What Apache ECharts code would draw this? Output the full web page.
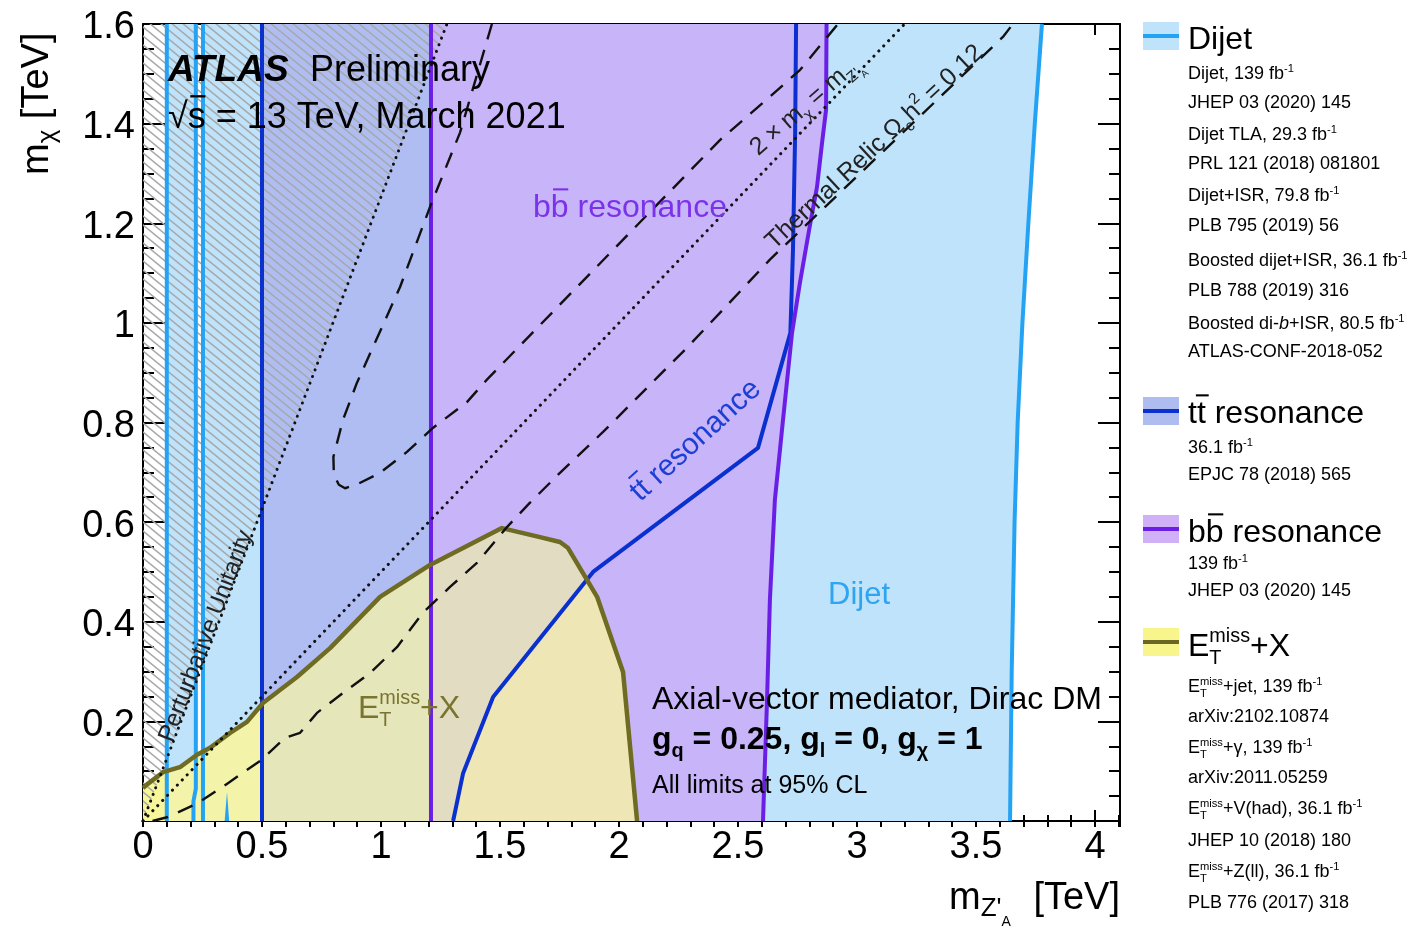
<!DOCTYPE html>
<html><head><meta charset="utf-8">
<script src="https://cdn.jsdelivr.net/npm/echarts@6/dist/echarts.min.js"></script>
<style>html,body{margin:0;padding:0;background:#fff}#c{width:1416px;height:929px}</style>
</head><body><div id="c"></div>
<script>
// ================= DATA (TeV) =================
const xMin = 0, xMax = 4.105, yMin = 0, yMax = 1.6;
const xMajor = 0.5, xMinor = 0.1, yMajor = 0.2;

// Dijet exclusion
const dijetBandA = [[0.1,0],[0.1,1.6],[0.222,1.6],[0.222,0.065],[0.212,0.04],[0.212,0]];
const dijetLineA = [[0.1,0],[0.1,1.6]];
const dijetLineB = [[0.212,0],[0.212,0.04],[0.222,0.065],[0.222,1.6]];
const dijetLeftC = 0.252;
const dijetSpike = [[0.343,0],[0.353,0.058],[0.362,0]];
const dijetRight = [[3.643,0],[3.650,0.3],[3.662,0.6],[3.675,0.8],[3.695,1.0],[3.72,1.2],[3.747,1.4],[3.777,1.6]];
// ttbar resonance
const ttLeftX = 0.5;
const ttCurve = [[1.303,0],[1.345,0.096],[1.471,0.249],[1.891,0.5],[2.584,0.749],[2.72,0.98],[2.731,1.147],[2.740,1.38],[2.744,1.6]];
// bbbar resonance
const bbLeftX = 1.21;
const bbCurve = [[2.605,0],[2.622,0.243],[2.634,0.444],[2.655,0.645],[2.689,0.805],[2.727,0.98],[2.76,1.08],[2.80,1.19],[2.832,1.273],[2.853,1.361],[2.870,1.428],[2.872,1.6]];
// ETmiss + X
const etCurve = [[0,0.066],[0.013,0.072],[0.084,0.098],[0.155,0.108],[0.227,0.133],[0.282,0.147],[0.366,0.177],[0.437,0.199],[0.504,0.237],[0.647,0.289],[0.786,0.347],[0.996,0.450],[1.206,0.514],[1.508,0.588],[1.668,0.570],[1.752,0.560],[1.786,0.548],[1.908,0.450],[2.017,0.299],[2.076,0]];
// reference lines
const unitarityLine = [[0,0],[1.277,1.6]];
const kinematicLine = [[0,0],[3.2,1.6]];
const relicA = [[1.466,1.6],[1.332,1.382],[1.206,1.233],[1.080,1.072],[0.899,0.880],[0.840,0.805],[0.800,0.731],[0.802,0.695],[0.823,0.675],[0.849,0.668],[0.900,0.676],[0.996,0.699],[1.109,0.741],[1.218,0.789],[1.361,0.841],[1.445,0.886],[2.424,1.367],[2.634,1.454],[2.761,1.508],[2.920,1.6]];
const relicB = [[0.04,0],[0.105,0.008],[0.231,0.036],[0.357,0.076],[0.496,0.122],[0.597,0.167],[0.660,0.177],[0.731,0.217],[0.840,0.257],[0.954,0.297],[1.067,0.349],[1.176,0.418],[1.290,0.470],[1.403,0.518],[1.529,0.590],[1.626,0.639],[1.752,0.699],[1.933,0.781],[2.160,0.890],[2.277,0.946],[2.424,1.020],[2.634,1.127],[3.613,1.574],[3.655,1.6]];

// legend texts
const legDijet = ['Dijet, 139 fb^{-1}','JHEP 03 (2020) 145','Dijet TLA, 29.3 fb^{-1}','PRL 121 (2018) 081801','Dijet+ISR, 79.8 fb^{-1}','PLB 795 (2019) 56','Boosted dijet+ISR, 36.1 fb^{-1}','PLB 788 (2019) 316','Boosted di-*{b}+ISR, 80.5 fb^{-1}','ATLAS-CONF-2018-052'];
const legTT = ['36.1 fb^{-1}','EPJC 78 (2018) 565'];
const legBB = ['139 fb^{-1}','JHEP 03 (2020) 145'];
const legET = ['E@{T|miss}+jet, 139 fb^{-1}','arXiv:2102.10874','E@{T|miss}+γ, 139 fb^{-1}','arXiv:2011.05259','E@{T|miss}+V(had), 36.1 fb^{-1}','JHEP 10 (2018) 180','E@{T|miss}+Z(ll), 36.1 fb^{-1}','PLB 776 (2017) 318'];

// ================= STYLE =================
const FONT = "'Liberation Sans', Arial, Helvetica, sans-serif";
const C = {
  dijetFill:'#bee3fa', dijetLine:'#24a3f4',
  ttFill:'#afbdf2', ttLine:'#0a30d0',
  bbFill:'#c8b4f8', bbLine:'#6b1ee5',
  y0:'#f8f69a', y1:'#f3f4a9', y2:'#e5e6ba', y3:'#efe6b6', y4:'#e2dcc3',
  etLine:'#6f6b22', hatch:'#a8a8a8', ink:'#111'
};

// ================= GEOMETRY HELPERS =================
function clipPoly(subject, clip) {
  let area = 0;
  for (let i = 0; i < clip.length; i++) { const a = clip[i], b = clip[(i+1)%clip.length]; area += a[0]*b[1]-b[0]*a[1]; }
  if (area < 0) clip = clip.slice().reverse();
  let out = subject;
  for (let i = 0; i < clip.length; i++) {
    const a = clip[i], b = clip[(i+1)%clip.length];
    const inside = p => (b[0]-a[0])*(p[1]-a[1]) - (b[1]-a[1])*(p[0]-a[0]) >= 0;
    const inter = (P, Q) => {
      const dx = Q[0]-P[0], dy = Q[1]-P[1];
      const ex = b[0]-a[0], ey = b[1]-a[1];
      const t = (ex*(a[1]-P[1]) - ey*(a[0]-P[0])) / (ex*dy - ey*dx);
      return [P[0]+t*dx, P[1]+t*dy];
    };
    const inp = out; out = [];
    for (let j = 0; j < inp.length; j++) {
      const P = inp[j], Q = inp[(j+1)%inp.length];
      const pi = inside(P), qi = inside(Q);
      if (pi) out.push(P);
      if (pi !== qi) out.push(inter(P, Q));
    }
    if (!out.length) break;
  }
  return out;
}
const rightOf = x0 => [[x0,-1],[10,-1],[10,10],[x0,10]];

const dijetBandB = [[dijetLeftC,0],[dijetLeftC,yMax]].concat(dijetRight.slice().reverse());
const ttPoly = [[ttLeftX,0],[ttLeftX,yMax]].concat(ttCurve.slice().reverse());
const bbPoly = [[bbLeftX,0],[bbLeftX,yMax]].concat(bbCurve.slice().reverse());
const etPoly = [[0,0]].concat(etCurve);
const belowTT = ttCurve.slice(0,5).concat([[ttCurve[4][0],0]]);
const hatchPoly = [unitarityLine[0], unitarityLine[1], [0, yMax]];

// hatch pattern
const pc = document.createElement('canvas'); const PW = 11, PH = 9;
pc.width = PW; pc.height = PH;
(function(){ const g = pc.getContext('2d'); g.strokeStyle = C.hatch; g.lineWidth = 1.5; g.beginPath();
  for (const n of [-1,0,1]) { g.moveTo(n*PW - PW, -PH); g.lineTo(n*PW + 2*PW, 2*PH); }
  g.stroke(); })();

const fillLayers = [
  {pts: dijetBandA, c: C.dijetFill},
  {pts: dijetBandB, c: C.dijetFill},
  {pts: ttPoly, c: C.ttFill},
  {pts: bbPoly, c: C.bbFill},
  {pts: etPoly, c: C.y0},
  {pts: clipPoly(etPoly, rightOf(dijetLineA[0][0])), c: C.y1},
  {pts: clipPoly(etPoly, rightOf(ttLeftX)), c: C.y2},
  {pts: clipPoly(etPoly, rightOf(bbLeftX)), c: C.y4},
  {pts: clipPoly(etPoly, belowTT), c: C.y3},
  {pts: dijetSpike, c: C.dijetLine},
  {pts: hatchPoly, c: {image: pc, repeat: 'repeat'}}
];

// ================= TEXT HELPERS =================
const mc = document.createElement('canvas').getContext('2d');
function measure(t, s, w, it) { mc.font = (it?'italic ':'normal ') + (w||'normal') + ' ' + s + 'px ' + FONT; return mc.measureText(t).width; }
function parse(str) {
  const parts = []; let buf = '';
  for (let i = 0; i < str.length; i++) {
    const ch = str[i];
    if ('^_@~*'.includes(ch) && str[i+1] === '{') {
      if (buf) { parts.push({t: buf}); buf = ''; }
      const end = str.indexOf('}', i+2);
      const inner = str.slice(i+2, end);
      if (ch === '^') parts.push({t: inner, k: 'sup'});
      else if (ch === '_') parts.push({t: inner, k: 'sub'});
      else if (ch === '@') { const ab = inner.split('|'); parts.push({t: ab[0], k: 'sub'}); parts.push({t: ab[1], k: 'sup', back: true}); }
      else if (ch === '~') parts.push({t: inner, bar: true});
      else if (ch === '*') parts.push({t: inner, i: true});
      i = end;
    } else buf += ch;
  }
  if (buf) parts.push({t: buf});
  return parts;
}
const BL = 0.26;
function rich(x, y, parts, o) {
  if (typeof parts === 'string') parts = parse(parts);
  const S = o.s, col = o.c || '#000', W = o.w || 'normal';
  const els = []; let cx = x, prevStart = x;
  for (const p of parts) {
    let s = S, dy = 0;
    if (p.k === 'sup') { s = S*0.62; dy = -0.42*S; }
    else if (p.k === 'sub') { s = S*0.62; dy = 0.26*S; }
    if (p.s) s = p.s; if (p.dy != null) dy = p.dy;
    const ww = p.w || W; const it = (p.i != null) ? p.i : !!o.i;
    const w = measure(p.t, s, ww, it);
    const sx = (p.back ? prevStart : cx) + (p.dx || 0);
    const base = y + dy;
    els.push({type:'text', x: sx, y: base - BL*s, z: 100, silent: true,
      style:{text: p.t, fontFamily: FONT, fontSize: s, fontWeight: ww, fontStyle: it?'italic':'normal', fill: p.c || col, align:'left', verticalAlign:'middle', textAlign:'left', textVerticalAlign:'middle'}});
    if (p.bar) { const th = Math.max(2, 0.065*s); const bw = Math.max(w - 0.08*s, 0.40*s);
      els.push({type:'rect', z: 100, silent: true, shape:{x: sx + w/2 - bw/2 + 0.03*s, y: base - (p.barH || 0.80)*s - th, width: bw, height: th}, style:{fill: p.c || col}}); }
    const end = sx + w;
    if (p.back) cx = Math.max(cx, end); else { prevStart = sx; cx = end; }
  }
  return els;
}
function rot(x, y, deg, children) { return {type:'group', x: x, y: y, rotation: deg*Math.PI/180, children: children}; }

// ================= GRAPHIC =================
let G = [];
G = G.concat(rich(168, 80, [{t:'ATLAS', w:'bold', i:true}], {s:37}));
G = G.concat(rich(310, 80, 'Preliminary', {s:36}));
G = G.concat(rich(168, 127, [{t:'√'},{t:'s', bar:true, barH:0.82},{t:' = 13 TeV, March 2021'}], {s:36}));
G = G.concat(rich(533, 216, 'b~{b} resonance', {s:32, c:'#7b33ea'}));
G = G.concat(rich(828, 604, 'Dijet', {s:31, c:'#2ea4f2'}));
G = G.concat(rich(358, 717, 'E@{T|miss}+X', {s:32, c:'#7a7431'}));
G = G.concat(rich(652, 708, 'Axial-vector mediator, Dirac DM', {s:32}));
G = G.concat(rich(652, 748, 'g_{q} = 0.25, g_{l} = 0, g_{χ} = 1', {s:32, w:'bold'}));
G = G.concat(rich(652, 793, 'All limits at 95% CL', {s:25}));
G.push(rot(172, 743, 69, rich(0, 0, 'Perturbative Unitarity', {s:24, c:'#222'})));
G.push(rot(640, 502, 42.4, rich(0, 0, 't~{t} resonance', {s:30, c:'#1c3fd4'})));
G.push(rot(758, 156, 41, rich(0, 0, [{t:'2'},{t:'×', dx:6},{t:'m', dx:6},{t:'χ',k:'sub'},{t:' = m'},{t:"Z'",k:'sub'},{t:'A', s:10, dy:11}], {s:25, c:'#222'})));
G.push(rot(774, 250, 43, rich(0, 0, 'Thermal Relic Ω_{c}h^{2} = 0.12', {s:25, c:'#222'})));
// axis titles
G = G.concat(rich(949, 908, [{t:'m'},{t:"Z'", s:26, dy:8},{t:'A', s:14, dy:18},{t:' [TeV]', dx:12}], {s:38}));
G.push(rot(47, 175, 90, rich(0, 0, [{t:'m'},{t:'χ', s:26, dy:8},{t:' [TeV]'}], {s:38})));

// legend
function swatch(y0, fill, line) {
  return [{type:'rect', z:100, silent:true, shape:{x:1143, y:y0, width:36, height:28}, style:{fill: fill}},
          {type:'rect', z:101, silent:true, shape:{x:1143, y:y0+12, width:36, height:4}, style:{fill: line}}];
}
function block(titleStr, titleBase, swY, fill, line, lines, bases) {
  let els = swatch(swY, fill, line);
  els = els.concat(rich(1188, titleBase, titleStr, {s:32}));
  lines.forEach((L, i) => { els = els.concat(rich(1188, bases[i], L, {s:18})); });
  return els;
}
G = G.concat(block('Dijet', 48, 22, '#bfe3fa', C.dijetLine, legDijet, [79,108,140,169,201,231,266,296,329,357]));
G = G.concat(block('t~{t} resonance', 422, 397, '#afbcf0', C.ttLine, legTT, [453,480]));
G = G.concat(block('b~{b} resonance', 541, 515, '#d0b0f7', C.bbLine, legBB, [569,596]));
G = G.concat(block('E@{T|miss}+X', 655, 628, '#f8f58c', '#6b6526', legET, [692,722,753,783,814,846,877,908]));

// ================= SERIES =================
function lineS(pts, color, width, type, z, cap) {
  return {type:'line', data: pts, xAxisIndex:0, yAxisIndex:0, showSymbol:false, symbol:'none', silent:true, z: z,
    lineStyle:{color: color, width: width, type: type || 'solid', cap: cap || 'butt', join:'round'},
    emphasis:{disabled:true}, animation:false, clip:true};
}
const series = [
  {type:'custom', xAxisIndex:0, yAxisIndex:0, z:1, silent:true, clip:true, animation:false,
   data: fillLayers.map((L, i) => [L.pts[0][0], L.pts[0][1], i]),
   encode:{x:0, y:1},
   renderItem: (params, api) => {
     const L = fillLayers[api.value(2)];
     return {type:'polygon', shape:{points: L.pts.map(p => api.coord(p))}, style:{fill: L.c, stroke: null}};
   }},
  lineS(dijetLineA, C.dijetLine, 4, 'solid', 3),
  lineS(dijetLineB, C.dijetLine, 4, 'solid', 3),
  lineS([[dijetLeftC,0],[dijetLeftC,yMax]], C.dijetLine, 4, 'solid', 3),
  lineS(dijetRight, C.dijetLine, 4, 'solid', 3),
  lineS([[ttLeftX,0],[ttLeftX,yMax]], C.ttLine, 4, 'solid', 4),
  lineS(ttCurve, C.ttLine, 4, 'solid', 4),
  lineS([[bbLeftX,0],[bbLeftX,yMax]], C.bbLine, 4, 'solid', 5),
  lineS(bbCurve, C.bbLine, 4, 'solid', 5),
  lineS(etCurve, C.etLine, 4.5, 'solid', 6),
  lineS(relicA, C.ink, 2.4, [16,11], 7),
  lineS(relicB, C.ink, 2.4, [16,11], 7),
  lineS(unitarityLine, C.ink, 3, [0.1,7], 7, 'round'),
  lineS(kinematicLine, C.ink, 3, [0.1,7], 7, 'round')
];

// ================= AXES =================
const lbl = {fontSize:38, color:'#000', fontFamily:FONT};
const axLine = {show:true, onZero:false, lineStyle:{color:'#000', width:2}};
function xa(pos, interval, tickLen, showLine, label) {
  return {type:'value', gridIndex:0, position:pos, min:xMin, max:xMax, interval:interval,
    axisLine: showLine ? axLine : {show:false},
    axisTick:{show:true, inside:true, length:tickLen, lineStyle:{color:'#000', width:2}},
    axisLabel: label ? Object.assign({show:true, margin:8, showMaxLabel:false}, lbl) : {show:false},
    splitLine:{show:false}, minorTick:{show:false}};
}
function ya(pos, label) {
  return {type:'value', gridIndex:0, position:pos, min:yMin, max:yMax, interval:yMajor,
    axisLine: axLine,
    axisTick:{show:true, inside:true, length:22, lineStyle:{color:'#000', width:2}},
    minorTick:{show:true, splitNumber:4, length:11, lineStyle:{color:'#000', width:2}},
    axisLabel: label ? Object.assign({show:true, margin:8, showMinLabel:false, verticalAlign:'top', lineHeight:8}, lbl) : {show:false},
    splitLine:{show:false}};
}

const option = {
  animation:false,
  backgroundColor:'#fff',
  textStyle:{fontFamily:FONT},
  grid:{left:143, top:24, width:977, height:797, containLabel:false, outerBoundsMode:'none', show:false},
  xAxis:[xa('bottom', xMajor, 11, true, true), xa('bottom', xMinor, 6, false, false), xa('top', xMajor, 11, true, false), xa('top', xMinor, 6, false, false)],
  yAxis:[ya('left', true), ya('right', false)],
  series: series,
  graphic:{elements: G}
};
const chart = echarts.init(document.getElementById('c'), null, {renderer:'canvas'});
chart.setOption(option);
</script>
</body></html>
